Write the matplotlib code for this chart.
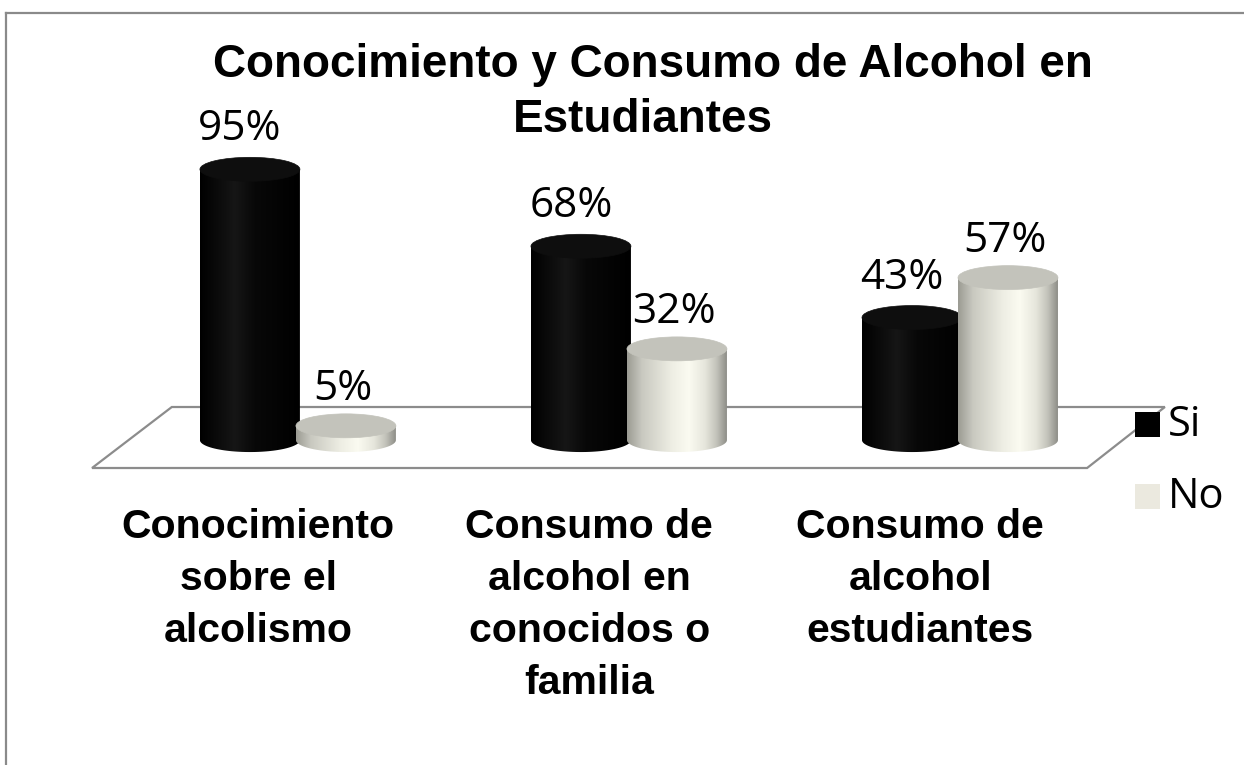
import numpy as np
import matplotlib
matplotlib.use("Agg")
import matplotlib.pyplot as plt
from matplotlib.colors import LinearSegmentedColormap
from matplotlib.patches import Ellipse, Polygon, Rectangle
from matplotlib.lines import Line2D

# data
categories = ["Conocimiento\nsobre el\nalcolismo",
              "Consumo de\nalcohol en\nconocidos o\nfamilia",
              "Consumo de\nalcohol\nestudiantes"]
si = [95, 68, 43]
no = [5, 32, 57]
series_names = ["Si", "No"]
title_lines = ["Conocimiento y Consumo de Alcohol en", "Estudiantes"]

black_cm = LinearSegmentedColormap.from_list(
    "blk", [(0, "#000000"), (0.35, "#161616"), (0.55, "#080808"), (1, "#000000")])
white_cm = LinearSegmentedColormap.from_list(
    "wht", [(0, "#9b9b93"), (0.15, "#c9c9c0"), (0.45, "#eeeee4"), (0.62, "#fbfbf1"),
            (0.78, "#e6e6dc"), (0.9, "#c2c2ba"), (1, "#8e8e88")])

W, H = 1244, 765
fig = plt.figure(figsize=(12.44, 7.65), dpi=100)
ax = fig.add_axes([0, 0, 1, 1])
XL = (-0.9, 2.858)
YL = (-114.0, 154.4)

# floor of the 3d plot
floor = Polygon([(-0.381, 11.6), (2.619, 11.6), (2.384, -9.8), (-0.622, -9.8)],
                closed=True, facecolor="white", edgecolor="#8c8c8c", lw=1.6, zorder=1)
ax.add_patch(floor)

hw = 0.151   # half width of cylinder
ry = 4.2     # half height of the ellipses
off = 0.145


def cylinder(xc, h, cmap, top_color, z):
    t = np.linspace(0, np.pi, 80)
    pts = [(xc + hw, h), (xc + hw, 0)]
    pts += list(zip(xc + hw * np.cos(t), -ry * np.sin(t)))
    pts += [(xc - hw, h)]
    body = Polygon(pts, closed=True, facecolor="none", edgecolor="none",
                   transform=ax.transData, zorder=z)
    ax.add_patch(body)
    grad = np.linspace(0, 1, 256)[None, :]
    im = ax.imshow(grad, cmap=cmap, extent=(xc - hw, xc + hw, -ry - 1, h),
                   aspect="auto", origin="lower", zorder=z, interpolation="bilinear")
    im.set_clip_path(body)
    ax.add_patch(Ellipse((xc, h), 2 * hw, 2 * ry, facecolor=top_color,
                         edgecolor=top_color, lw=0.5, zorder=z + 0.5))


for i in range(len(categories)):
    cylinder(i - off, si[i], black_cm, "#0e0e0e", 3)
    cylinder(i + off, no[i], white_cm, "#c3c3bb", 5)
    ax.text(i - off - 0.03, si[i] + 14, f"{si[i]}%", ha="center", va="center",
            fontsize=30.5, family="Open Sans", zorder=8)
    ax.text(i + off - 0.01, no[i] + 13, f"{no[i]}%", ha="center", va="center",
            fontsize=30.5, family="Open Sans", zorder=8)
    ax.text(i - 0.12, -24, categories[i], ha="center", va="top", fontsize=29.5,
            weight="bold", family="Liberation Sans", linespacing=1.46)

ax.set_xlim(*XL)
ax.set_ylim(*YL)
ax.axis("off")

# title, one text per line
fig.text(653 / W, 1 - 77 / H, title_lines[0], ha="center", va="baseline",
         fontsize=33, weight="bold", family="Liberation Sans")
fig.text(643 / W, 1 - 132 / H, title_lines[1], ha="center", va="baseline",
         fontsize=33, weight="bold", family="Liberation Sans")

# legend
for k, (name, col) in enumerate(zip(series_names, ["#000000", "#ebe9df"])):
    ytop = 412 + k * 72
    fig.patches.append(Rectangle((1135 / W, 1 - (ytop + 25) / H), 25 / W, 25 / H,
                                 transform=fig.transFigure, facecolor=col,
                                 edgecolor="none"))
    fig.text(1168 / W, 1 - (ytop + 13) / H, name, ha="left", va="center",
             fontsize=30, family="Open Sans")

# outer frame
fig.add_artist(Line2D([6 / W, 6 / W], [0, 1 - 13 / H], color="#8a8a8a", lw=1.6))
fig.add_artist(Line2D([6 / W, 1], [1 - 13 / H, 1 - 13 / H], color="#8a8a8a", lw=1.6))

fig.savefig("out.png", dpi=100)
